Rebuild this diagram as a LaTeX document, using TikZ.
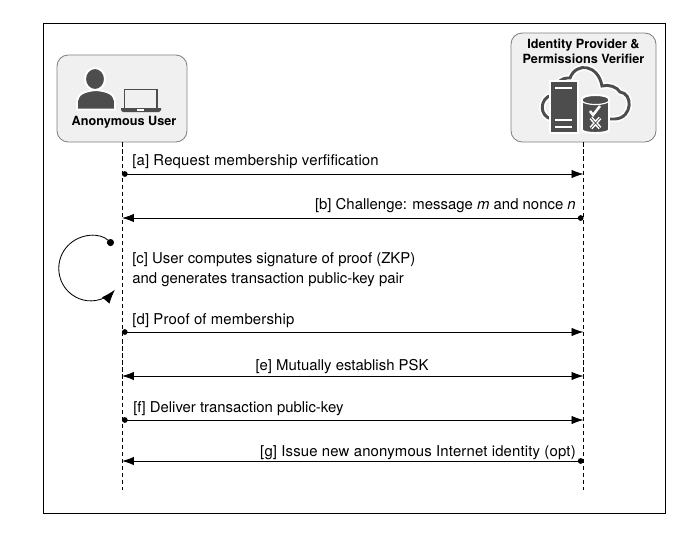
\documentclass[tikz,border=0pt]{standalone}
\usepackage{fontspec}
\setmainfont{TeX Gyre Heros}
\usetikzlibrary{arrows.meta}
\definecolor{icongray}{HTML}{4D4D4D}
\tikzset{
  actor/.style={draw=gray, fill=black!6, rounded corners=8pt, line width=0.6pt},
  lifeline/.style={densely dashed, line width=0.6pt},
  msg/.style={line width=0.6pt, {Circle[length=4pt]}-{Latex[length=8.5pt,width=6pt]}},
  both/.style={line width=0.6pt, {Latex[length=8.5pt,width=6pt]}-{Latex[length=8.5pt,width=6pt]}},
  loopmsg/.style={line width=0.6pt, {Circle[length=5pt]}-{Latex[length=10pt,width=7pt]}},
  lbl/.style={font=\fontsize{10.6pt}{14.2pt}\selectfont, inner sep=0pt, align=left},
  lblwide/.style={font=\fontsize{10.6pt}{14.2pt}\selectfont\addfontfeature{LetterSpace=1.1}, inner sep=0pt, align=left},
  icon/.style={fill=icongray, draw=white, line width=1.4pt}
}
\begin{document}
\begin{tikzpicture}[x=0.025cm, y=-0.025cm]
    \useasboundingbox (0, 0) rectangle (692, 535);
    \draw [line width=0.6pt] (43, 23) rectangle (665, 513);

    \node [actor, minimum width=130*0.025cm, minimum height=87*0.025cm] (user) at (122, 98.5) {};
    \node [actor, minimum width=145*0.025cm, minimum height=109*0.025cm] (idp) at (583.5, 87.5) {};

    \coordinate (userend) at (122, 490);
    \coordinate (idpend) at (583.5, 490);
    \draw [lifeline] (user.south) -- (userend);
    \draw [lifeline] (idp.south) -- (idpend);

    % user and laptop
    \fill [icon] (77, 109.5) -- (77, 101) .. controls (78, 94) and (84, 91) .. (96, 90) .. controls (108, 91) and (114, 94) .. (115, 101) -- (115, 109.5) -- cycle;
    \fill [icon] (95, 79) ellipse (10 and 11);
    \draw [icongray, line width=1.4pt] (124.5, 108.5) -- (124.5, 89.5) -- (157, 89.5) -- (157, 108.5);
    \fill [icongray] (121, 108) -- (161, 108) -- (161, 110) -- (159, 112) -- (123, 112) -- (121, 110) -- cycle;
    \fill [white] (137, 109) rectangle (144, 111);
    \node [font=\bfseries\fontsize{9pt}{9pt}\selectfont, inner sep=0pt] (usertext) at (124, 122) {Anonymous User};

    % provider, cloud, server and database
    \node [font=\bfseries\fontsize{9pt}{10.6pt}\selectfont, inner sep=0pt, align=center] (idptext) at (583.5, 51.5) {Identity Provider \&\\Permissions Verifier};
    \draw [white, line width=4.5pt] (552, 119) .. controls (539, 117) and (539, 98) .. (552, 95)
      .. controls (553, 84) and (562, 77) .. (570, 78) .. controls (576, 62) and (598, 64) .. (602, 86)
      .. controls (609, 84) and (617, 87) .. (620, 92) .. controls (633, 93) and (633, 118) .. (615, 119) -- (606, 119);
    \draw [icongray, line width=2.1pt] (552, 119) .. controls (539, 117) and (539, 98) .. (552, 95)
      .. controls (553, 84) and (562, 77) .. (570, 78) .. controls (576, 62) and (598, 64) .. (602, 86)
      .. controls (609, 84) and (617, 87) .. (620, 92) .. controls (633, 93) and (633, 118) .. (615, 119) -- (606, 119);
    \fill [icon] (550, 81) rectangle (578, 133);
    \draw [white, line width=1pt] (555, 88) -- (572, 88) (555, 120) -- (572, 120) (555, 127) -- (572, 127);
    \fill [icon] (582, 99) -- (582, 130) arc (180:0:13.5 and 3) -- (609, 99) arc (0:-180:13.5 and 4) -- cycle;
    \draw [white, line width=0.8pt] (582, 100.5) arc (180:0:13.5 and 4);
    \draw [white, line width=1.8pt] (590, 111) -- (593, 115) -- (600, 106);
    \draw [white, line width=2.6pt] (591, 118) -- (600, 128) (600, 118) -- (591, 128);
    \draw [icongray, line width=0.5pt] (591, 118) -- (600, 128) (600, 118) -- (591, 128);

    % messages
    \coordinate (ua) at (122, 174);
    \coordinate (ia) at (583.5, 174);
    \coordinate (ub) at (122, 218);
    \coordinate (ib) at (583.5, 218);
    \coordinate (ud) at (122, 332);
    \coordinate (id) at (583.5, 332);
    \coordinate (ue) at (122, 376);
    \coordinate (ie) at (583.5, 376);
    \coordinate (uf) at (122, 420);
    \coordinate (if) at (583.5, 420);
    \coordinate (ug) at (122, 461);
    \coordinate (ig) at (583.5, 461);
    \draw [msg] (ua) -- (ia);
    \draw [msg] (ib) -- (ub);
    \draw [msg] (ud) -- (id);
    \draw [both] (ue) -- (ie);
    \draw [msg] (uf) -- (if);
    \draw [msg] (ig) -- (ug);

    % loop at the user
    \coordinate (loopstart) at (113, 245);
    \draw [loopmsg] (loopstart) arc (-46:-319:32 and 32.5) coordinate (loopend);

    \node [lblwide, anchor=west] (la) at (132, 161.5) {[a] Request membership verfification};
    \node [lbl, anchor=east] (lb) at (576, 206) {[b] Challenge: message \textit{m} and nonce \textit{n}};
    \node [lbl, anchor=west] (lc) at (132, 270) {[c] User computes signature of proof (ZKP)\\and generates transaction public-key pair};
    \node [lblwide, anchor=west] (ld) at (132, 321) {[d] Proof of membership};
    \node [lbl] (le) at (342, 367) {[e] Mutually establish PSK};
    \node [lbl, anchor=west] (lf) at (133, 409) {[f] Deliver transaction public-key};
    \node [lblwide, anchor=east] (lg) at (576, 453) {[g] Issue new anonymous Internet identity (opt)};
\end{tikzpicture}
\end{document}
